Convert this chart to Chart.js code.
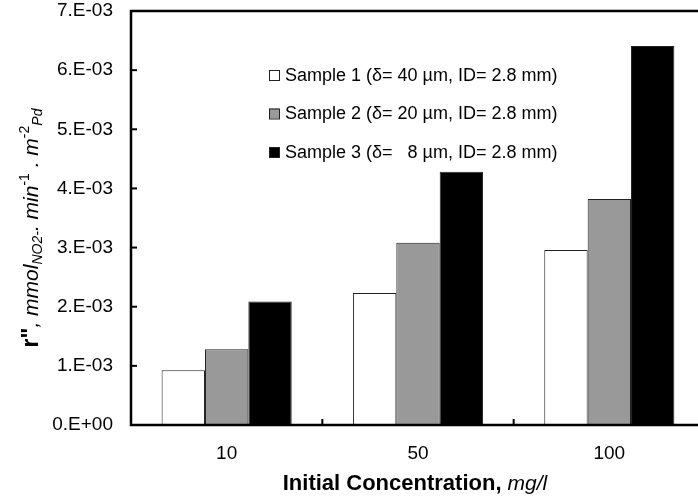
<!DOCTYPE html>
<html>
<head>
<meta charset="utf-8">
<script src="https://cdn.jsdelivr.net/npm/chart.js@4.4.0/dist/chart.umd.min.js"></script>
<style>
  html, body { margin: 0; padding: 0; overflow: hidden; background: #fff; }
  #wrap { position: relative; width: 712px; height: 501px; }
</style>
</head>
<body>
<div id="wrap"><canvas id="chart"></canvas></div>
<script>
const categories = ["10", "50", "100"];
const sample1 = [0.000925, 0.00223, 0.00296];
const sample2 = [0.00128, 0.00308, 0.00382];
const sample3 = [0.00209, 0.00428, 0.00641];
const seriesLabels = [
  "Sample 1 (δ= 40 µm, ID= 2.8 mm)",
  "Sample 2 (δ= 20 µm, ID= 2.8 mm)",
  "Sample 3 (δ=   8 µm, ID= 2.8 mm)",
];
const seriesColors = ["#ffffff", "#999999", "#000000"];

const FONT = "Arial, 'Liberation Sans', sans-serif";

function tickLabel(v) {
  const n = Math.round(v * 1000);
  return n === 0 ? "0.E+00" : n + ".E-03";
}

// frame, inward ticks, legend and axis titles
const decorations = {
  id: "decorations",
  afterDraw(chart) {
    const ctx = chart.ctx;
    const a = chart.chartArea;
    const xs = chart.scales.x;
    const ys = chart.scales.y;
    ctx.save();
    ctx.strokeStyle = "#000";
    ctx.lineWidth = 2.5;
    ctx.beginPath();
    ctx.moveTo(a.right, a.top);
    ctx.lineTo(a.left, a.top);
    ctx.lineTo(a.left, a.bottom);
    ctx.lineTo(a.right, a.bottom);
    ctx.stroke();

    ctx.lineWidth = 2;
    ys.ticks.forEach(t => {
      const y = ys.getPixelForValue(t.value);
      ctx.beginPath();
      ctx.moveTo(a.left, y);
      ctx.lineTo(a.left + 6, y);
      ctx.stroke();
    });
    for (let i = 0; i < categories.length - 1; i++) {
      const x = (xs.getPixelForValue(i) + xs.getPixelForValue(i + 1)) / 2;
      ctx.beginPath();
      ctx.moveTo(x, a.bottom);
      ctx.lineTo(x, a.bottom - 6);
      ctx.stroke();
    }

    // legend
    ctx.font = "18px " + FONT;
    ctx.textBaseline = "middle";
    ctx.textAlign = "left";
    chart.data.datasets.forEach((ds, i) => {
      const y = 75 + i * 38.5;
      ctx.fillStyle = ds.backgroundColor;
      ctx.fillRect(269, y - 5, 10, 10);
      ctx.lineWidth = 1;
      ctx.strokeStyle = "#222";
      ctx.strokeRect(269.5, y - 4.5, 10, 10);
      ctx.fillStyle = "#000";
      ctx.fillText(ds.label, 285, y + 1);
    });

    // x title
    ctx.textBaseline = "alphabetic";
    const p1 = "Initial Concentration, ";
    const p2 = "mg/l";
    ctx.font = "bold 22px " + FONT;
    const w1 = ctx.measureText(p1).width;
    ctx.font = "italic 21px " + FONT;
    const w2 = ctx.measureText(p2).width;
    let x0 = 415 - (w1 + w2) / 2;
    ctx.font = "bold 22px " + FONT;
    ctx.fillText(p1, x0, 490);
    ctx.font = "italic 21px " + FONT;
    ctx.fillText(p2, x0 + w1, 490);

    // y title
    const parts = [
      { t: "r\"", f: "bold 23px " + FONT, dy: 0 },
      { t: ", ", f: "italic 21px " + FONT, dy: 0 },
      { t: "mmol", f: "italic 21px " + FONT, dy: 0 },
      { t: "NO2-", f: "italic 14px " + FONT, dy: 4 },
      { t: ". min", f: "italic 21px " + FONT, dy: 0 },
      { t: "-1", f: "14px " + FONT, dy: -9 },
      { t: " . m", f: "italic 21px " + FONT, dy: 0 },
      { t: "-2", f: "14px " + FONT, dy: -9 },
      { t: "Pd", f: "italic 14px " + FONT, dy: 4 },
    ];
    let total = 0;
    parts.forEach(p => { ctx.font = p.f; p.w = ctx.measureText(p.t).width; total += p.w; });
    ctx.translate(38, 228);
    ctx.rotate(-Math.PI / 2);
    let cx = -total / 2;
    parts.forEach(p => {
      ctx.font = p.f;
      ctx.fillText(p.t, cx, p.dy);
      cx += p.w;
    });
    ctx.restore();
  },
};

new Chart(document.getElementById("chart"), {
  type: "bar",
  data: {
    labels: categories,
    datasets: [sample1, sample2, sample3].map((d, i) => ({
      label: seriesLabels[i],
      data: d,
      backgroundColor: seriesColors[i],
      borderColor: "#222",
      borderWidth: 1,
      categoryPercentage: 0.68,
      barPercentage: 1.0,
    })),
  },
  options: {
    responsive: true,
    maintainAspectRatio: false,
    animation: false,
    layout: { padding: { left: 0, top: 11, right: 7, bottom: 0 } },
    plugins: {
      legend: { display: false },
      tooltip: { enabled: false },
    },
    scales: {
      x: {
        grid: { display: false, drawTicks: false },
        border: { display: false },
        ticks: { color: "#000", padding: 17, font: { size: 19, family: FONT } },
        afterFit(s) { s.height = 76; s.paddingLeft = 0; s.paddingRight = 0; },
      },
      y: {
        min: 0,
        max: 0.007,
        grid: { display: false, drawTicks: false },
        border: { display: false },
        ticks: { stepSize: 0.001, color: "#000", padding: 18, font: { size: 19, family: FONT }, callback: tickLabel },
        afterFit(s) { s.width = 131; s.paddingTop = 0; s.paddingBottom = 0; },
      },
    },
  },
  plugins: [decorations],
});
</script>
</body>
</html>
